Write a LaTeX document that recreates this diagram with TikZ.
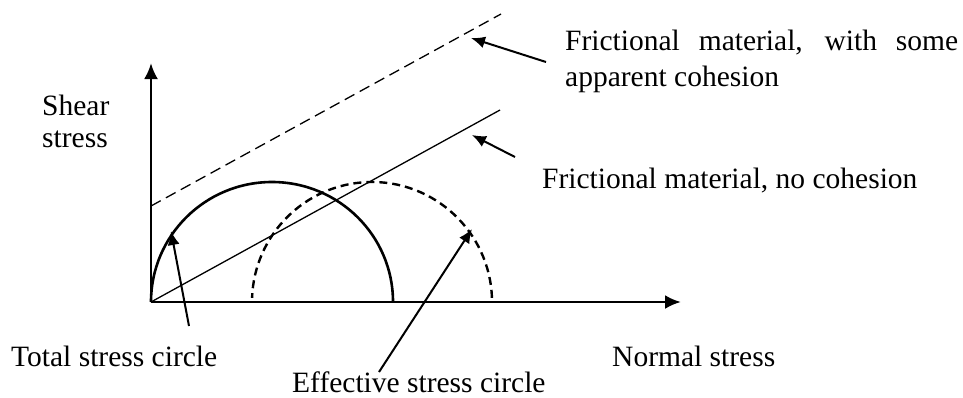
\documentclass[tikz,border=0pt]{standalone}
\usepackage{fontspec}
\setmainfont{Liberation Serif}
\usetikzlibrary{arrows.meta}
\begin{document}
\begin{tikzpicture}[x=1pt,y=-1pt,
  lbl/.style={anchor=base west,inner sep=0pt,font=\fontsize{29.5}{34}\selectfont},
  axisline/.style={line width=2.7pt,-{Latex[length=16pt,width=14pt]}},
  pointer/.style={line width=2pt,-{Latex[length=14pt,width=12pt]}},
  envelope/.style={line width=1.3pt},
  totalc/.style={line width=2.6pt},
  effc/.style={line width=2.4pt,dash pattern=on 8pt off 5pt}]
\useasboundingbox (0,0) rectangle (963,397);
% axes
\coordinate (O) at (151,302);
\coordinate (ytip) at (151,63);
\coordinate (xtip) at (681,302);
\draw[axisline] (O) -- (ytip);
\draw[axisline] (O) -- (xtip);
% failure envelopes
\coordinate (s0) at (151,302);
\coordinate (s1) at (500,110);
\coordinate (d0) at (151,206);
\coordinate (d1) at (501,14);
\draw[envelope] (s0) -- (s1);
\draw[envelope,dash pattern=on 11pt off 6pt] (d0) -- (d1);
% circles
\coordinate (tc) at (272,302);
\coordinate (ec) at (372,302);
\draw[totalc] (393,302) arc[start angle=0,end angle=-180,x radius=121,y radius=120];
\draw[effc] ([shift={(-2:120)}]ec) arc[start angle=-2,end angle=-178,radius=120];
% labels
\node[lbl] (shear) at (42,115) {Shear};
\node[lbl] (stress) at (42,147) {stress};
\node[lbl] (fa) at (565,50) {\makebox[393pt][s]{Frictional material, with some}};
\node[lbl] (fb) at (565,86) {apparent cohesion};
\node[lbl] (fc) at (542,188) {Frictional material, no cohesion};
\node[lbl] (tsc) at (11,366) {Total stress circle};
\node[lbl] (ns) at (612,366) {Normal stress};
\node[lbl] (esc) at (292,392) {Effective stress circle};
% pointers
\coordinate (p1s) at (546,62);  \coordinate (p1e) at (471,38);
\coordinate (p2s) at (515,157); \coordinate (p2e) at (472,135);
\coordinate (p3s) at (189,326); \coordinate (p3e) at (171,231);
\coordinate (p4s) at (379,372); \coordinate (p4e) at (472,229);
\draw[pointer] (p1s) -- (p1e);
\draw[pointer] (p2s) -- (p2e);
\draw[pointer] (p3s) -- (p3e);
\draw[pointer] (p4s) -- (p4e);
\end{tikzpicture}
\end{document}
